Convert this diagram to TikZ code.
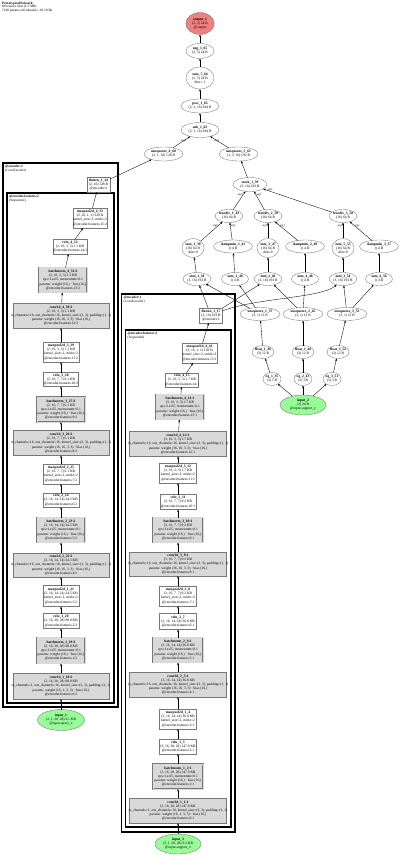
\documentclass[tikz,border=0pt]{standalone}
\usepackage{fontspec}
\setmainfont{Liberation Serif}
\usetikzlibrary{shapes.geometric,arrows.meta}
\newcommand\zl[1]{\makebox[0pt][c]{#1}}
\newcommand\nfs{\fontsize{3.6}{4.1}\selectfont}
\newcommand\tfs{\fontsize{3.4}{3.9}\selectfont}
\newcommand\afs{\fontsize{2.8}{3}\selectfont}
\definecolor{ngray}{RGB}{120,120,120}
\definecolor{pfill}{RGB}{217,217,217}
\definecolor{ingreen}{RGB}{152,251,152}
\definecolor{outred}{RGB}{240,128,128}
\newcommand\convtxt[5]{\zl{\textbf{#1}}\\\zl{#2}\\\zl{in\_channels=#3, out\_channels=16, kernel\_size=(3, 3), padding=(1, 1)}\\\zl{params: weight (16, #3, 3, 3) · bias (16,)}\\\zl{@encoder.features.#4:#5}}
\newcommand\bntxt[4]{\zl{\textbf{#1}}\\\zl{#2}\\\zl{eps=1e-05, momentum=0.1}\\\zl{params: weight (16,) · bias (16,)}\\\zl{@encoder.features.#3:#4}}
\newcommand\relutxt[4]{\zl{\textbf{#1}}\\\zl{#2}\\\zl{@encoder.features.#3:#4}}
\newcommand\pooltxt[4]{\zl{\textbf{#1}}\\\zl{#2}\\\zl{kernel\_size=2, stride=2}\\\zl{@encoder.features.#3:#4}}
\newcommand\twol[2]{\zl{\textbf{#1}}\\\zl{#2}}
\newcommand\threel[3]{\zl{\textbf{#1}}\\\zl{#2}\\\zl{#3}}
\tikzset{
 nd/.style={inner sep=0pt, outer sep=0pt, font=\nfs, align=center, line width=0.35pt, draw=ngray},
 ell/.style={nd, ellipse, fill=white},
 inp/.style={nd, ellipse, fill=ingreen},
 outp/.style={nd, ellipse, fill=outred},
 wbox/.style={nd, rectangle, fill=white},
 pbox/.style={nd, rectangle, fill=pfill},
 bnbox/.style={nd, rectangle, fill=pfill, double=pfill, double distance=0.9pt},
 sz/.style 2 args={minimum width=#1pt, minimum height=#2pt},
 e/.style={-{Stealth[length=2.6pt,width=1.9pt]}, line width=0.35pt, black},
 lab/.style={font=\afs, inner sep=0.4pt},
 modbox/.style={draw=black, line width=1.1pt},
 modlab/.style={font=\tfs, align=left, anchor=north west, inner sep=0pt},
}
\begin{document}
\begin{tikzpicture}[x=1pt,y=-1pt]
\useasboundingbox (0,0) rectangle (400,858);
\node[modlab] (title) at (2,1.5) {\textbf{PrototypicalNetwork}\\80 tensors total (1.5 MB)\\7248 params (all trainable; 28.3 KB)};
% module boxes
\draw[modbox] (3,163) rectangle (118,707);
\draw[modbox] (7,193) rectangle (114,703);
\draw[modbox] (121.5,294) rectangle (235,832);
\draw[modbox] (125.5,330) rectangle (231,827);
\node[modlab] (encLlab) at (5,165) {\textbf{@encoder:2}\\(ConvEncoder)};
\node[modlab] (featLlab) at (9,195) {\textbf{@encoder.features:2}\\(Sequential)};
\node[modlab] (encRlab) at (123.5,296) {\textbf{@encoder:1}\\(ConvEncoder)};
\node[modlab] (featRlab) at (127.5,332) {\textbf{@encoder.features:1}\\(Sequential)};
% top chain
\node[outp, sz={28.5}{22}] (out) at (200,23.5) {\threel{output\_1}{(2, 3) 24 B}{@output}};
\node[ell, sz={28}{15}] (neg) at (200,51) {\twol{neg\_1\_65}{(2, 3) 24 B}};
\node[ell, sz={28}{22}] (sum7) at (200,78) {\threel{sum\_7\_64}{(2, 3) 24 B}{dim=-1}};
\node[ell, sz={38}{14}] (pow) at (200,106) {\twol{pow\_1\_63}{(2, 3, 16) 384 B}};
\node[ell, sz={38}{15}] (sub) at (200,130) {\twol{sub\_1\_62}{(2, 3, 16) 384 B}};
\node[ell, sz={39}{14}] (uq4) at (163.5,154) {\twol{unsqueeze\_4\_60}{(2, 1, 16) 128 B}};
\node[ell, sz={39}{14}] (uq5) at (238.5,154) {\twol{unsqueeze\_5\_61}{(1, 3, 16) 192 B}};
\node[ell, sz={34}{14}] (stack) at (250,184.5) {\twol{stack\_1\_59}{(3, 16) 192 B}};
\node[ell, sz={28}{13}] (td1) at (229,216) {\twol{truediv\_1\_42}{(16) 64 B}};
\node[ell, sz={28}{13}] (td2) at (268,216) {\twol{truediv\_2\_50}{(16) 64 B}};
\node[ell, sz={28}{13}] (td3) at (343,216) {\twol{truediv\_3\_58}{(16) 64 B}};
\node[ell, sz={22}{19}] (s1) at (193,248) {\threel{sum\_1\_39}{(16) 64 B}{dim=0}};
\node[ell, sz={39}{13}] (c1) at (233,246.5) {\twol{clampmin\_1\_41}{() 4 B}};
\node[ell, sz={22}{19}] (s3) at (268,248) {\threel{sum\_3\_47}{(16) 64 B}{dim=0}};
\node[ell, sz={39}{13}] (c2) at (305,246.5) {\twol{clampmin\_2\_49}{() 4 B}};
\node[ell, sz={22}{19}] (s5) at (343,248) {\threel{sum\_5\_55}{(16) 64 B}{dim=0}};
\node[ell, sz={39}{13}] (c3) at (379,246.5) {\twol{clampmin\_3\_57}{() 4 B}};
\node[ell, sz={28}{13}] (m1) at (197,279) {\twol{mul\_1\_38}{(3, 16) 192 B}};
\node[ell, sz={27}{13}] (s2) at (235,279) {\twol{sum\_2\_40}{() 4 B}};
\node[ell, sz={28}{13}] (m2) at (268,279) {\twol{mul\_2\_46}{(3, 16) 192 B}};
\node[ell, sz={27}{13}] (s4) at (305,279) {\twol{sum\_4\_48}{() 4 B}};
\node[ell, sz={28}{13}] (m3) at (343,279) {\twol{mul\_3\_54}{(3, 16) 192 B}};
\node[ell, sz={27}{13}] (s6) at (379,279) {\twol{sum\_6\_56}{() 4 B}};
\node[ell, sz={40}{13}] (u1) at (260,314) {\twol{unsqueeze\_1\_37}{(3, 1) 12 B}};
\node[ell, sz={40}{13}] (u2) at (303,314) {\twol{unsqueeze\_2\_45}{(3, 1) 12 B}};
\node[ell, sz={40}{13}] (u3) at (347,314) {\twol{unsqueeze\_3\_53}{(3, 1) 12 B}};
\node[ell, sz={22}{13}] (f1) at (263,352) {\twol{float\_1\_36}{(3) 12 B}};
\node[ell, sz={22}{13}] (f2) at (303,352) {\twol{float\_2\_44}{(3) 12 B}};
\node[ell, sz={22}{13}] (f3) at (338,352) {\twol{float\_3\_52}{(3) 12 B}};
\node[ell, sz={18}{13}] (q1) at (272,379) {\twol{eq\_1\_35}{(3) 3 B}};
\node[ell, sz={18}{13}] (q2) at (303,379) {\twol{eq\_2\_43}{(3) 3 B}};
\node[ell, sz={18}{13}] (q3) at (332,379) {\twol{eq\_3\_51}{(3) 3 B}};
\node[inp, sz={46}{20}] (in2) at (303,405) {\threel{input\_2}{(3) 24 B}{@input.support\_y}};
% left encoder (query)
\node[wbox, sz={23}{15}] (fl34) at (98.5,184.5) {\threel{flatten\_1\_34}{(2, 16) 128 B}{@encoder:2}};
\node[wbox, sz={34}{20}] (mp4L) at (90,218) {\pooltxt{maxpool2d\_4\_33}{(2, 16, 1, 1) 128 B}{15}{2}};
\node[wbox, sz={34}{15}] (rl4L) at (70,246.5) {\relutxt{relu\_4\_32}{(2, 16, 3, 3) 1.1 KB}{14}{2}};
\node[bnbox, sz={48}{25}] (bn4L) at (63,280) {\bntxt{batchnorm\_4\_31:2}{(2, 16, 3, 3) 1.1 KB}{13}{2}};
\node[pbox, sz={96}{25}] (cv4L) at (61,315.5) {\convtxt{conv2d\_4\_30:2}{(2, 16, 3, 3) 1.1 KB}{16}{12}{2}};
\node[wbox, sz={36}{20}] (mp3L) at (61,352) {\pooltxt{maxpool2d\_3\_29}{(2, 16, 3, 3) 1.1 KB}{11}{2}};
\node[wbox, sz={35}{14}] (rl3L) at (61,379.5) {\relutxt{relu\_3\_28}{(2, 16, 7, 7) 6.1 KB}{10}{2}};
\node[bnbox, sz={48}{25}] (bn3L) at (61,409.5) {\bntxt{batchnorm\_3\_27:2}{(2, 16, 7, 7) 6.1 KB}{9}{2}};
\node[pbox, sz={96}{25}] (cv3L) at (61,443) {\convtxt{conv2d\_3\_26:2}{(2, 16, 7, 7) 6.1 KB}{16}{8}{2}};
\node[wbox, sz={36}{20}] (mp2L) at (61,474) {\pooltxt{maxpool2d\_2\_25}{(2, 16, 7, 7) 6.1 KB}{7}{2}};
\node[wbox, sz={36}{14}] (rl2L) at (61,500) {\relutxt{relu\_2\_24}{(2, 16, 14, 14) 24.5 KB}{6}{2}};
\node[bnbox, sz={48}{25}] (bn2L) at (61,530) {\bntxt{batchnorm\_2\_23:2}{(2, 16, 14, 14) 24.5 KB}{5}{2}};
\node[pbox, sz={96}{24}] (cv2L) at (61,565) {\convtxt{conv2d\_2\_22:2}{(2, 16, 14, 14) 24.5 KB}{16}{4}{2}};
\node[wbox, sz={36}{21}] (mp1L) at (61,596) {\pooltxt{maxpool2d\_1\_21}{(2, 16, 14, 14) 24.5 KB}{3}{2}};
\node[wbox, sz={36}{15}] (rl1L) at (61,621) {\relutxt{relu\_1\_20}{(2, 16, 28, 28) 98.0 KB}{2}{2}};
\node[bnbox, sz={48}{26}] (bn1L) at (61,650.5) {\bntxt{batchnorm\_1\_19:2}{(2, 16, 28, 28) 98.0 KB}{1}{2}};
\node[pbox, sz={96}{26}] (cv1L) at (61,686) {\convtxt{conv2d\_1\_18:2}{(2, 16, 28, 28) 98.0 KB}{1}{0}{2}};
\node[inp, sz={47}{21}] (in1) at (61,720) {\threel{input\_1}{(2, 1, 28, 28) 6.1 KB}{@input.query\_x}};
% right encoder (support)
\node[wbox, sz={23}{15}] (fl17) at (211,315.5) {\threel{flatten\_1\_17}{(3, 16) 192 B}{@encoder:1}};
\node[wbox, sz={35}{20}] (mp4R) at (199.5,353) {\pooltxt{maxpool2d\_4\_16}{(3, 16, 1, 1) 192 B}{15}{1}};
\node[wbox, sz={33}{14}] (rl4R) at (182,380) {\relutxt{relu\_4\_15}{(3, 16, 3, 3) 1.7 KB}{14}{1}};
\node[bnbox, sz={48}{25}] (bn4R) at (180,407) {\bntxt{batchnorm\_4\_14:1}{(3, 16, 3, 3) 1.7 KB}{13}{1}};
\node[pbox, sz={97}{25}] (cv4R) at (178,444) {\convtxt{conv2d\_4\_13:1}{(3, 16, 3, 3) 1.7 KB}{16}{12}{1}};
\node[wbox, sz={37}{20}] (mp3R) at (178,473) {\pooltxt{maxpool2d\_3\_12}{(3, 16, 3, 3) 1.7 KB}{11}{1}};
\node[wbox, sz={36}{15}] (rl3R) at (178,502) {\relutxt{relu\_3\_11}{(3, 16, 7, 7) 9.2 KB}{10}{1}};
\node[bnbox, sz={50}{25}] (bn3R) at (178,530) {\bntxt{batchnorm\_3\_10:1}{(3, 16, 7, 7) 9.2 KB}{9}{1}};
\node[pbox, sz={97}{24}] (cv3R) at (178,564) {\convtxt{conv2d\_3\_9:1}{(3, 16, 7, 7) 9.2 KB}{16}{8}{1}};
\node[wbox, sz={37}{20}] (mp2R) at (178,596) {\pooltxt{maxpool2d\_2\_8}{(3, 16, 7, 7) 9.2 KB}{7}{1}};
\node[wbox, sz={37}{16}] (rl2R) at (178,621.5) {\relutxt{relu\_2\_7}{(3, 16, 14, 14) 36.8 KB}{6}{1}};
\node[bnbox, sz={50}{25}] (bn2R) at (178,650) {\bntxt{batchnorm\_2\_6:1}{(3, 16, 14, 14) 36.8 KB}{5}{1}};
\node[pbox, sz={97}{25}] (cv2R) at (178,684.5) {\convtxt{conv2d\_2\_5:1}{(3, 16, 14, 14) 36.8 KB}{16}{4}{1}};
\node[wbox, sz={37}{20}] (mp1R) at (178,719) {\pooltxt{maxpool2d\_1\_4}{(3, 16, 14, 14) 36.8 KB}{3}{1}};
\node[wbox, sz={37}{15}] (rl1R) at (178,746.5) {\relutxt{relu\_1\_3}{(3, 16, 28, 28) 147.0 KB}{2}{1}};
\node[bnbox, sz={50}{25}] (bn1R) at (178,776.5) {\bntxt{batchnorm\_1\_2:1}{(3, 16, 28, 28) 147.0 KB}{1}{1}};
\node[pbox, sz={97}{25}] (cv1R) at (178,810.5) {\convtxt{conv2d\_1\_1:1}{(3, 16, 28, 28) 147.0 KB}{1}{0}{1}};
\node[inp, sz={46}{20}] (in3) at (178,844) {\threel{input\_3}{(3, 1, 28, 28) 9.2 KB}{@input.support\_x}};
% edges: encoders
\foreach \a/\b in {in1/cv1L,cv1L/bn1L,bn1L/rl1L,rl1L/mp1L,mp1L/cv2L,cv2L/bn2L,bn2L/rl2L,rl2L/mp2L,mp2L/cv3L,cv3L/bn3L,bn3L/rl3L,rl3L/mp3L,mp3L/cv4L,cv4L/bn4L,bn4L/rl4L,rl4L/mp4L,mp4L/fl34,fl34/uq4,
 in3/cv1R,cv1R/bn1R,bn1R/rl1R,rl1R/mp1R,mp1R/cv2R,cv2R/bn2R,bn2R/rl2R,rl2R/mp2R,mp2R/cv3R,cv3R/bn3R,bn3R/rl3R,rl3R/mp3R,mp3R/cv4R,cv4R/bn4R,bn4R/rl4R,rl4R/mp4R,mp4R/fl17}
  \draw[e] (\a) -- (\b);
% prototype branch
\foreach \a/\b in {in2/q1,in2/q2,in2/q3,q1/f1,q2/f2,q3/f3,f1/u1,f2/u2,f3/u3,u1/m1,u1/s2,u2/m2,u2/s4,u3/m3,u3/s6,
 fl17/m1,fl17/m2,m1/s1,s2/c1,m2/s3,s4/c2,m3/s5,s6/c3,stack/uq5,sub/pow,pow/sum7,sum7/neg,neg/out}
  \draw[e] (\a) -- (\b);
\draw[e] (fl17) .. controls (255,298) and (322,298) .. (m3);
\draw[e] (s1) -- node[lab, pos=0.8, left] {arg0} (td1);
\draw[e] (c1) -- node[lab, pos=0.8, right] {arg1} (td1);
\draw[e] (s3) -- node[lab, pos=0.8, left] {arg0} (td2);
\draw[e] (c2) -- node[lab, pos=0.8, right] {arg1} (td2);
\draw[e] (s5) -- node[lab, pos=0.8, left] {arg0} (td3);
\draw[e] (c3) -- node[lab, pos=0.8, right] {arg1} (td3);
\draw[e] (td1) -- node[lab, pos=0.8, left] {arg0} (stack);
\draw[e] (td2) -- node[lab, pos=0.8, right] {arg1} (stack);
\draw[e] (td3) -- node[lab, pos=0.9, above] {arg2} (stack);
\draw[e] (uq4) -- node[lab, pos=0.8, below left] {arg0} (sub);
\draw[e] (uq5) -- node[lab, pos=0.8, below right] {arg1} (sub);
\end{tikzpicture}
\end{document}
